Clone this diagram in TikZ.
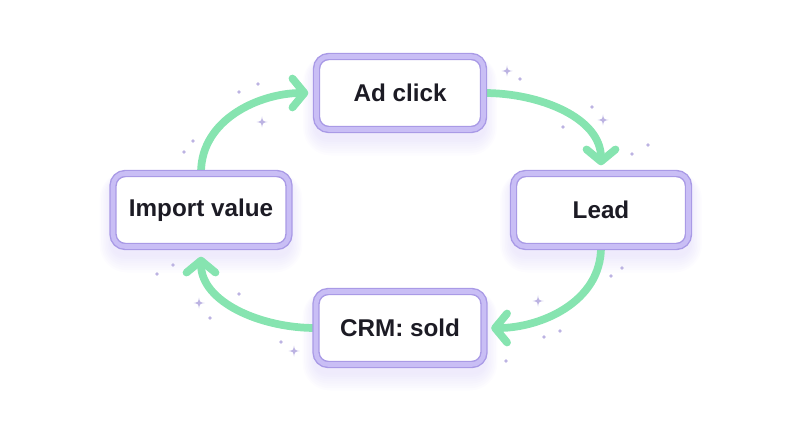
\documentclass[tikz,border=0pt]{standalone}
\usepackage{fontspec}
\setmainfont{Liberation Sans}
\usetikzlibrary{arrows.meta,backgrounds,calc}
\definecolor{boxline}{HTML}{A99AE6}
\definecolor{boxband}{HTML}{C9BEF5}
\definecolor{boxglow}{HTML}{C4B8F4}
\definecolor{flowgreen}{HTML}{86E4B0}
\definecolor{speckcol}{HTML}{BCB3E2}
\definecolor{inkdark}{HTML}{1C1B24}

\begin{document}
\begin{tikzpicture}[
			stage/.style={draw=boxline,fill=white,line width=0.8pt,double=boxband,
				double distance=2.6pt,rounded corners=7pt,
				minimum height=1.46cm,inner sep=0pt,
				font=\fontsize{13.8}{16}\selectfont\bfseries,text=inkdark},
			flow/.style={draw=flowgreen,line width=4.4pt,line cap=round,
				-{Straight Barb[round,length=2.4mm,width=5.8mm]}},
			speck/.style={fill=speckcol},
			pics/glint/.style={code={
				\fill[speckcol] (0,0.11) .. controls (0.015,0.015) .. (0.11,0)
				.. controls (0.015,-0.015) .. (0,-0.11)
				.. controls (-0.015,-0.015) .. (-0.11,0)
				.. controls (-0.015,0.015) .. (0,0.11) -- cycle;}}]
			\useasboundingbox (0,0) rectangle (16,8.4);
			% the four stages of the loop
			\node[stage,minimum width=3.34cm] (ad) at (8,6.54) {Ad click};
			\node[stage,minimum width=3.50cm] (lead) at (12.02,4.2) {Lead};
			\node[stage,minimum width=3.36cm] (crm) at (8,1.84) {CRM: sold};
			\node[stage,minimum width=3.52cm] (imp) at (4.02,4.2) {Import value};
			\begin{scope}[on background layer]
				% soft glow under the boxes
				\foreach \n in {ad,lead,crm,imp}
				\foreach \g in {1,...,8}
				\fill[boxglow,opacity=0.04,rounded corners=6pt+\g*1.2pt]
				($(\n.south west)+(-\g*0.9pt,-\g*1.3pt-4pt)$) rectangle
				($(\n.north east)+(\g*0.9pt,\g*0.6pt-4pt)$);
				% arrows
				\draw[flow,shorten >=0.15cm] (imp.north) to[out=90,in=180] (ad.west);
				\draw[flow,shorten >=0.15cm] (ad.east) to[out=0,in=90] (lead.north);
				\draw[flow,shorten >=0.13cm] (lead.south) to[out=-90,in=0] (crm.east);
				\draw[flow,shorten >=0.19cm] (crm.west) to[out=180,in=-90] (imp.south);
			\end{scope}
			% sparkles
			\foreach \p in {(4.78,6.56),(5.16,6.72),(3.86,5.58),(3.68,5.36),
				(10.40,6.82),(11.84,6.26),(11.26,5.86),(12.64,5.32),(12.96,5.50),
				(12.44,3.04),(12.22,2.88),(11.20,1.78),(10.88,1.66),(10.12,1.18),
				(3.46,3.10),(3.14,2.92),(4.78,2.52),(4.20,2.04),(5.62,1.56)}
			\fill[speck] \p circle (1.1pt);
			\foreach \p in {(5.24,5.96),(10.14,6.98),(12.06,6.00),(10.76,2.38),
				(3.98,2.34),(5.88,1.38)}
			\pic at \p {glint};
		\end{tikzpicture}
\end{document}
